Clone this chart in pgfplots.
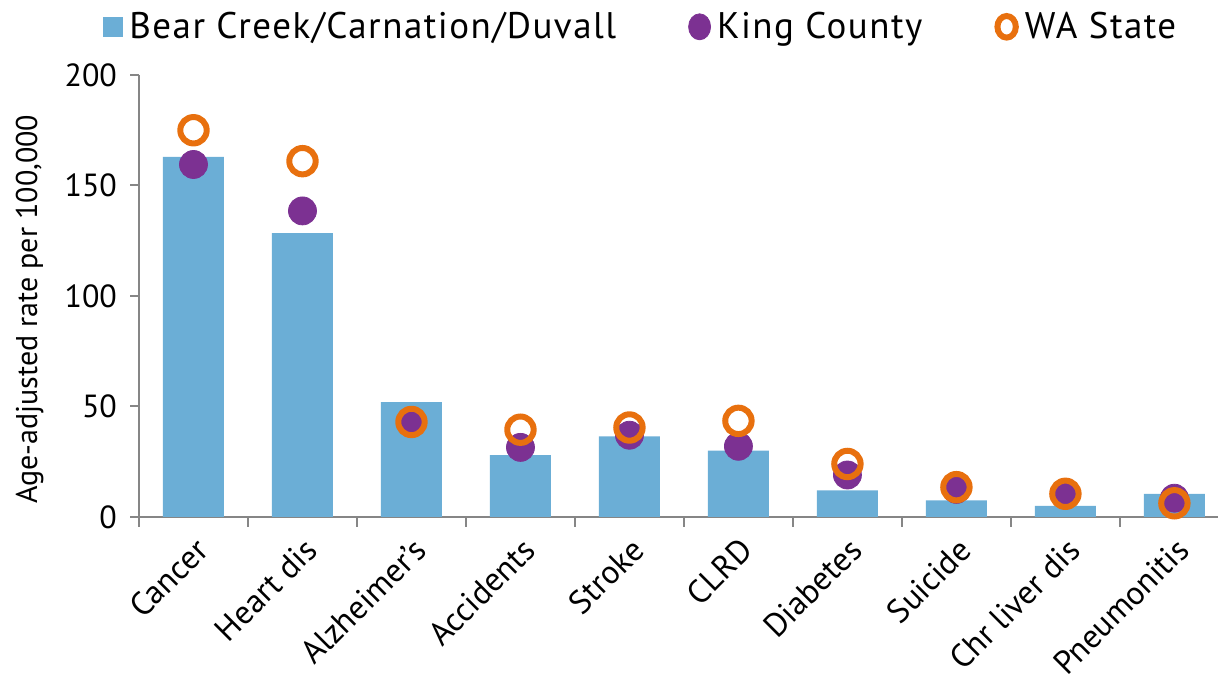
\documentclass[border=0pt]{standalone}
\usepackage{pgfplots}
\pgfplotsset{compat=1.18}
\usepackage{fontspec}
\setmainfont{PT Sans}
\definecolor{barblue}{RGB}{107,174,214}
\definecolor{kcpurple}{RGB}{124,49,146}
\definecolor{waorange}{RGB}{232,112,14}
\definecolor{axgray}{RGB}{134,134,134}
\begin{document}
\begin{tikzpicture}
\useasboundingbox (0,0) rectangle (609pt,339pt);
\begin{axis}[
  at={(69.5pt,80.5pt)}, anchor=south west,
  scale only axis, width=539.5pt, height=221pt,
  xmin=-0.5, xmax=9.4, ymin=0, ymax=200,
  axis x line=bottom, axis y line=left,
  axis line style={-, axgray, line width=1.2pt},
  ytick={0,50,100,150,200},
  xtick={0,...,9},
  xticklabels={Cancer,Heart dis,Alzheimer's,Accidents,Stroke,CLRD,Diabetes,Suicide,Chr liver dis,Pneumonitis},
  minor xtick={-0.5,0.5,...,8.5},
  tick align=outside,
  major x tick style={draw=none},
  every tick/.style={axgray, line width=1pt},
  major tick length=4.5pt, minor tick length=5pt,
  x tick label style={rotate=45, anchor=north east, font=\fontsize{16.5pt}{18pt}\selectfont, xshift=0pt, yshift=0pt},
  y tick label style={font=\fontsize{16pt}{18pt}\selectfont, xshift=-3pt},
  /pgf/number format/assume math mode=true,
  ylabel={Age-adjusted rate per 100,000},
  ylabel style={font=\fontsize{15pt}{17pt}\selectfont, at={(axis description cs:-0.082,0.47)}},
  legend columns=3,
  legend style={at={(0.466,1.109)}, anchor=center, draw=none, fill=none,
    font=\fontsize{18.5pt}{20pt}\selectfont\addfontfeature{LetterSpace=4},
    /tikz/every odd column/.append style={column sep=1pt},
    /tikz/every even column/.append style={column sep=34pt}},
  legend cell align=left,
  clip=false,
]
\addplot[ybar, bar width=30.5pt, fill=barblue, draw=none,
  legend image code/.code={\fill[barblue] (0pt,-5pt) rectangle (10pt,5pt);}]
  coordinates {(0,163) (1,128.5) (2,52) (3,28) (4,36.5) (5,30) (6,12) (7,7.5) (8,5) (9,10.5)};
\addlegendentry{Bear Creek/Carnation/Duvall}
\addplot[only marks, mark=*, mark size=7pt, color=kcpurple, fill=kcpurple,
  legend image code/.code={\fill[kcpurple] (5pt,0pt) ellipse (5.5pt and 6.5pt);}]
  coordinates {(0,159.5) (1,138.5) (2,43) (3,31.5) (4,37) (5,32) (6,19) (7,12.5) (8,10) (9,8.5)};
\addlegendentry{King County}
\addplot[only marks, mark=o, mark size=6.6pt, color=waorange, line width=3pt,
  legend image code/.code={\draw[waorange, line width=3pt] (5pt,0pt) ellipse (4.6pt and 5.4pt);}]
  coordinates {(0,175) (1,161) (2,43) (3,39.5) (4,40.5) (5,43.5) (6,24) (7,13.5) (8,10.5) (9,6.2)};
\addlegendentry{WA State}
\end{axis}
\end{tikzpicture}
\end{document}
